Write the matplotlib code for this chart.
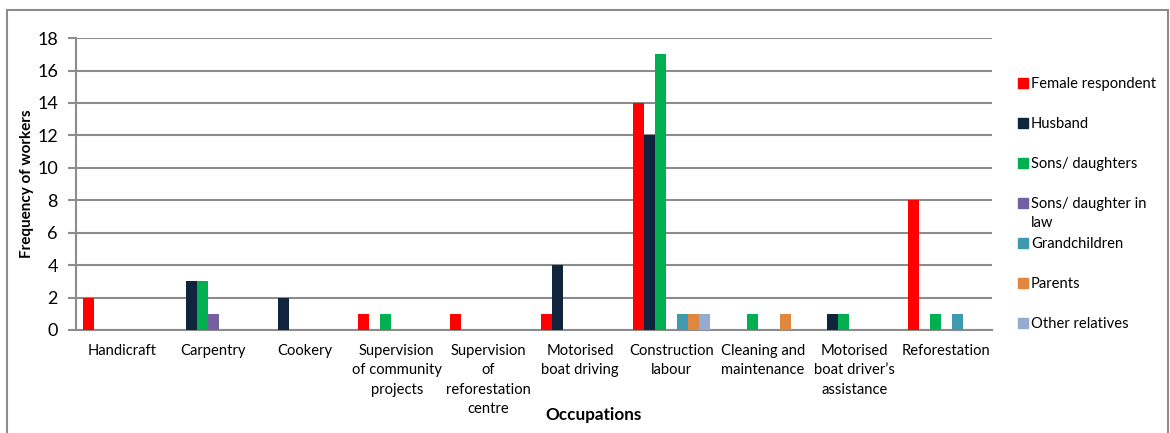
import numpy as np
import matplotlib.pyplot as plt
from matplotlib.patches import Rectangle

plt.rcParams['font.family'] = ['Lato', 'DejaVu Sans']

occupations = ['Handicraft', 'Carpentry', 'Cookery', 'Supervision\nof community\nprojects',
               'Supervision\nof\nreforestation\ncentre', 'Motorised\nboat driving',
               'Construction\nlabour', 'Cleaning and\nmaintenance',
               'Motorised\nboat driver\u2019s\nassistance', 'Reforestation']
series = ['Female respondent', 'Husband', 'Sons/ daughters', 'Sons/ daughter in\nlaw',
          'Grandchildren', 'Parents', 'Other relatives']
female = [2, 0, 0, 1, 1, 1, 14, 0, 0, 8]
husband = [0, 3, 2, 0, 0, 4, 12, 0, 1, 0]
sons = [0, 3, 0, 1, 0, 0, 17, 1, 1, 1]
sons_in_law = [0, 1, 0, 0, 0, 0, 0, 0, 0, 0]
grandchildren = [0, 0, 0, 0, 0, 0, 1, 0, 0, 1]
parents = [0, 0, 0, 0, 0, 0, 1, 1, 0, 0]
other_rel = [0, 0, 0, 0, 0, 0, 1, 0, 0, 0]
colors = ['#FF0000', '#10243E', '#00B050', '#7460A0', '#4199B0', '#E0873F', '#95ABD3']

values = [female, husband, sons, sons_in_law, grandchildren, parents, other_rel]

fig = plt.figure(figsize=(11.7, 4.33), dpi=100)
ax = fig.add_axes([0.065, 0.238, 0.783, 0.674])

x = np.arange(len(occupations))
w = 0.12
for i, (vals, c) in enumerate(zip(values, colors)):
    v = np.array(vals, dtype=float)
    v[v == 0] = np.nan
    ax.bar(x + (i - 3) * w, v, w, color=c, zorder=3)

ax.set_xlim(-0.5, len(occupations) - 0.5)
ax.set_ylim(0, 18)
ax.set_yticks(range(0, 19, 2))
ax.grid(axis='y', color='#8C8C8C', linewidth=1.5, zorder=0)
for s in ['top', 'right']:
    ax.spines[s].set_visible(False)
for s in ['left', 'bottom']:
    ax.spines[s].set_color('#8C8C8C')
    ax.spines[s].set_linewidth(1.5)
ax.tick_params(axis='y', length=6, width=1.5, color='#8C8C8C', labelsize=13, pad=7)
ax.tick_params(axis='x', length=0, labelsize=10.6, pad=10)
ax.set_xticks(x)
ax.set_xticklabels(occupations, linespacing=1.5)
ax.set_ylabel('Frequency of workers', fontsize=11, fontweight='bold', labelpad=2)
fig.text(594 / 1170, 1 - 415 / 433, 'Occupations', fontsize=12.3, fontweight='bold',
         ha='center', va='center')

# legend drawn by hand to mimic the fixed slot layout
for i, (name, c) in enumerate(zip(series, colors)):
    yc = 1 - (83 + 40 * i) / 433
    fig.add_artist(Rectangle((1018 / 1170, yc - 5 / 433), 10 / 1170, 10 / 433,
                             transform=fig.transFigure, color=c))
    fig.text(1031 / 1170, yc + 6 / 433, name, fontsize=10.6, ha='left', va='top',
             linespacing=1.5)

# outer frame
fig.add_artist(Rectangle((7 / 1170, -0.1), 1161 / 1170, 1.1 - 10 / 433,
                         transform=fig.transFigure, fill=False,
                         edgecolor='#8C8C8C', linewidth=1.5))

fig.savefig('out.png', dpi=100)
